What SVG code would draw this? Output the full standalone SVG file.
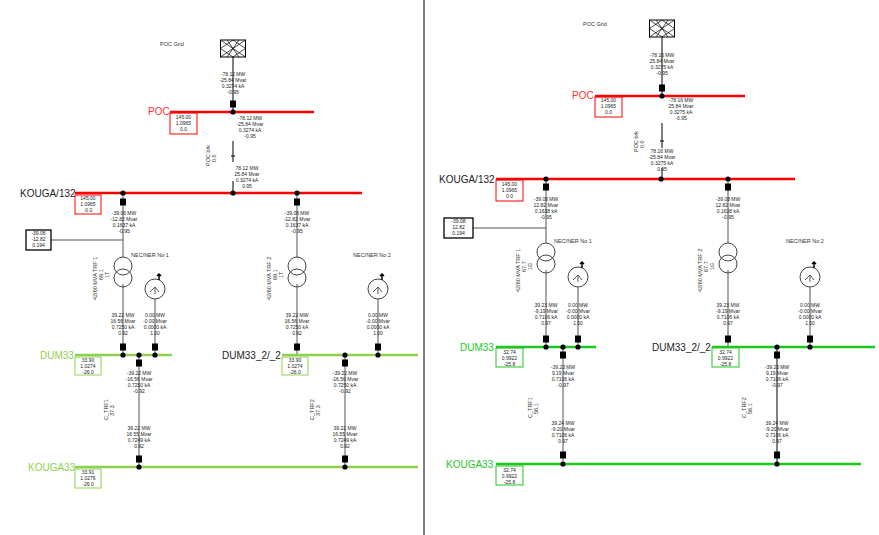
<svg xmlns="http://www.w3.org/2000/svg" width="879" height="535" viewBox="0 0 879 535">
<style>
text{font-family:"Liberation Sans",Arial,sans-serif}
.v{font-size:5px;fill:#222;text-anchor:middle}
.lb{font-size:5.5px;fill:#333}
.bn{font-size:10px}
.w{stroke:#555;stroke-width:1;fill:none}
.k{stroke:#000;stroke-width:1;fill:none}
.red{stroke:#ff0000;stroke-width:2.5}
.gl{stroke:#8fd14f;stroke-width:2.5}
.gr{stroke:#1ec81e;stroke-width:2.5}
</style>
<defs>
<g id="brk"><rect x="-3" y="-3.5" width="6" height="7" fill="#000"/></g>
<g id="dot"><circle r="2.6" fill="#000"/></g>
<g id="trf"><circle cy="-6" r="9" fill="#fff" stroke="#444"/><circle cy="6" r="9" fill="none" stroke="#444"/></g>
<g id="nec"><circle r="10" fill="#fff" stroke="#444"/><path d="M-5,3 L0,-2 L4,3 M0,-2 L0,5" class="w"/><path d="M4,-9 L4,-15 M2,-13 L4,-15 L6,-13" stroke="#000" stroke-width="1.5" fill="none"/></g>
<g id="grid"><rect x="-12.5" y="0" width="25" height="17" fill="#fff" stroke="#000"/><path d="M-12.5,0 L12.5,17 M12.5,0 L-12.5,17 M-12.5,8.5 L0,0 L12.5,8.5 L0,17 Z M-6,0 L6,17 M6,0 L-6,17" stroke="#000" stroke-width="0.7" fill="none"/></g>
</defs>
<line x1="424" y1="0" x2="424" y2="535" stroke="#000" stroke-width="1"/>

<g id="connectors">
<line x1="233" y1="57" x2="233" y2="112" class="k"/>
<line x1="233" y1="141" x2="233" y2="162" class="k"/>
<line x1="231" y1="156" x2="235" y2="156" class="k"/>
<line x1="233" y1="181" x2="233" y2="193" class="k"/>
<line x1="123" y1="193" x2="123" y2="258" class="w"/>
<line x1="51" y1="240" x2="123" y2="240" class="w"/>
<line x1="123" y1="284" x2="123" y2="355" class="w"/>
<line x1="155" y1="299" x2="155" y2="355" class="w"/>
<line x1="297" y1="193" x2="297" y2="258" class="w"/>
<line x1="297" y1="284" x2="297" y2="355" class="w"/>
<line x1="378" y1="299" x2="378" y2="355" class="w"/>
<line x1="139" y1="355" x2="139" y2="467" class="w"/>
<line x1="345" y1="355" x2="345" y2="467" class="w"/>

<line x1="662" y1="37" x2="662" y2="96" class="k"/>
<line x1="662" y1="123" x2="662" y2="148" class="k"/>
<line x1="660" y1="141" x2="664" y2="141" class="k"/>
<line x1="662" y1="168" x2="662" y2="179" class="k"/>
<line x1="546" y1="179" x2="546" y2="244" class="w"/>
<line x1="473" y1="228" x2="546" y2="228" class="w"/>
<line x1="546" y1="270" x2="546" y2="347" class="w"/>
<line x1="578" y1="287" x2="578" y2="347" class="w"/>
<line x1="728" y1="179" x2="728" y2="244" class="w"/>
<line x1="728" y1="270" x2="728" y2="347" class="w"/>
<line x1="810" y1="287" x2="810" y2="347" class="w"/>
<line x1="563" y1="347" x2="563" y2="464" class="w"/>
<line x1="777" y1="347" x2="777" y2="464" class="k"/>
</g>

<!-- LEFT PANEL -->
<g id="L-grid">
<text class="lb" x="160" y="46">POC Grid</text>
<use href="#grid" x="233" y="40"/>
<text class="v" x="233" y="76"><tspan x="233">-78.12 MW</tspan><tspan x="233" dy="6">-25.84 Mvar</tspan><tspan x="233" dy="6">0.3274 kA</tspan><tspan x="233" dy="6">-0.95</tspan></text>
<use href="#brk" x="233" y="104"/>
</g>
<g id="L-POC">
<line x1="170" y1="112" x2="314" y2="112" class="red"/>
<text class="bn" x="148" y="115" fill="#ff3030">POC</text>
<rect x="170" y="113" width="27" height="21" fill="none" stroke="#ff0000"/>
<text class="v" x="183.5" y="119"><tspan x="183.5">145.00</tspan><tspan x="183.5" dy="6">1.0965</tspan><tspan x="183.5" dy="6">0.0</tspan></text>
<use href="#dot" x="233" y="112"/>
<text class="v" x="250" y="120"><tspan x="250">-78.12 MW</tspan><tspan x="250" dy="6">-25.84 Mvar</tspan><tspan x="250" dy="6">0.3274 kA</tspan><tspan x="250" dy="6">-0.95</tspan></text>
</g>
<g id="L-brk">
<text class="lb" transform="translate(210,166) rotate(-90)"><tspan x="0">POC brk</tspan><tspan x="4" dy="6">0.0</tspan></text>
<text class="v" x="247" y="170"><tspan x="247">78.12 MW</tspan><tspan x="247" dy="6">25.84 Mvar</tspan><tspan x="247" dy="6">0.3274 kA</tspan><tspan x="247" dy="6">0.95</tspan></text>
</g>
<g id="L-KOUGA132">
<line x1="75" y1="193" x2="362" y2="193" class="red"/>
<text class="bn" x="20" y="197" fill="#222">KOUGA/132</text>
<rect x="75" y="195" width="26" height="19" fill="none" stroke="#ff0000"/>
<text class="v" x="88" y="200"><tspan x="88">145.00</tspan><tspan x="88" dy="6">1.0965</tspan><tspan x="88" dy="6">-0.0</tspan></text>
<use href="#dot" x="123" y="193"/><use href="#dot" x="233" y="193"/><use href="#dot" x="297" y="193"/>
<use href="#brk" x="123" y="202"/><use href="#brk" x="297" y="202"/>
<text class="v" x="124" y="215"><tspan x="124">-39.06 MW</tspan><tspan x="124" dy="6">-12.82 Mvar</tspan><tspan x="124" dy="6">0.1637 kA</tspan><tspan x="124" dy="6">-0.95</tspan></text>
<text class="v" x="297" y="215"><tspan x="297">-39.06 MW</tspan><tspan x="297" dy="6">-12.82 Mvar</tspan><tspan x="297" dy="6">0.1637 kA</tspan><tspan x="297" dy="6">-0.95</tspan></text>
<rect x="26" y="230" width="25" height="20" fill="none" stroke="#000" stroke-width="1.3"/>
<text class="v" x="38.5" y="235"><tspan x="38.5">-39.06</tspan><tspan x="38.5" dy="6">-12.82</tspan><tspan x="38.5" dy="6">0.194</tspan></text>
</g>
<g id="L-TRF1">
<use href="#trf" x="123" y="272"/>
<text class="lb" transform="translate(97,300) rotate(-90)"><tspan x="0">42/60 MVA TRF 1</tspan><tspan x="20" dy="6">69.1</tspan><tspan x="22" dy="6">1T</tspan></text>
<text class="v" x="123" y="317"><tspan x="123">39.22 MW</tspan><tspan x="123" dy="6">16.56 Mvar</tspan><tspan x="123" dy="6">0.7250 kA</tspan><tspan x="123" dy="6">0.92</tspan></text>
</g>
<g id="L-NEC1">
<text class="lb" x="131" y="257">NEC/NER No 1</text>
<use href="#nec" x="155" y="289"/>
<text class="v" x="155" y="317"><tspan x="155">0.00 MW</tspan><tspan x="155" dy="6">-0.00 Mvar</tspan><tspan x="155" dy="6">0.0000 kA</tspan><tspan x="155" dy="6">1.00</tspan></text>
</g>
<g id="L-TRF2">
<use href="#trf" x="297" y="272"/>
<text class="lb" transform="translate(271,300) rotate(-90)"><tspan x="0">42/60 MVA TRF 2</tspan><tspan x="20" dy="6">69.1</tspan><tspan x="22" dy="6">1T</tspan></text>
<text class="v" x="297" y="317"><tspan x="297">39.22 MW</tspan><tspan x="297" dy="6">16.56 Mvar</tspan><tspan x="297" dy="6">0.7250 kA</tspan><tspan x="297" dy="6">0.92</tspan></text>
</g>
<g id="L-NEC2">
<text class="lb" x="353" y="257">NEC/NER No 2</text>
<use href="#nec" x="378" y="289"/>
<text class="v" x="378" y="317"><tspan x="378">0.00 MW</tspan><tspan x="378" dy="6">-0.00 Mvar</tspan><tspan x="378" dy="6">0.0000 kA</tspan><tspan x="378" dy="6">1.00</tspan></text>
</g>
<g id="L-DUM33">
<line x1="75" y1="355" x2="172" y2="355" class="gl"/>
<text class="bn" x="40" y="359" fill="#8fd14f">DUM33</text>
<rect x="75" y="357" width="26" height="18" fill="none" stroke="#8fd14f"/>
<text class="v" x="88" y="362"><tspan x="88">33.90</tspan><tspan x="88" dy="6">1.0274</tspan><tspan x="88" dy="6">-26.0</tspan></text>
<use href="#brk" x="123" y="347"/><use href="#brk" x="155" y="347"/>
<use href="#dot" x="123" y="355"/><use href="#dot" x="139" y="355"/><use href="#dot" x="155" y="355"/>
<use href="#brk" x="139" y="363"/>
</g>
<g id="L-DUM33_2">
<line x1="282" y1="355" x2="418" y2="355" class="gl"/>
<text class="bn" x="222" y="359" fill="#222">DUM33_2/_2</text>
<rect x="282" y="357" width="26" height="18" fill="#fff" stroke="#8fd14f"/>
<text class="v" x="295" y="362"><tspan x="295">33.90</tspan><tspan x="295" dy="6">1.0274</tspan><tspan x="295" dy="6">-26.0</tspan></text>
<use href="#brk" x="297" y="347"/><use href="#brk" x="378" y="347"/>
<use href="#dot" x="345" y="355"/><use href="#dot" x="378" y="355"/>
<use href="#brk" x="345" y="363"/>
</g>
<g id="L-CTRF1">
<text class="v" x="139" y="375"><tspan x="139">-39.22 MW</tspan><tspan x="139" dy="6">-16.56 Mvar</tspan><tspan x="139" dy="6">0.7250 kA</tspan><tspan x="139" dy="6">-0.92</tspan></text>
<text class="lb" transform="translate(108,420) rotate(-90)"><tspan x="0">C_TRF1</tspan><tspan x="4" dy="6">37.3</tspan></text>
<text class="v" x="139" y="430"><tspan x="139">39.22 MW</tspan><tspan x="139" dy="6">16.55 Mvar</tspan><tspan x="139" dy="6">0.7249 kA</tspan><tspan x="139" dy="6">0.92</tspan></text>
<use href="#brk" x="139" y="459"/>
</g>
<g id="L-CTRF2">
<text class="v" x="345" y="375"><tspan x="345">-39.22 MW</tspan><tspan x="345" dy="6">-16.56 Mvar</tspan><tspan x="345" dy="6">0.7250 kA</tspan><tspan x="345" dy="6">-0.92</tspan></text>
<text class="lb" transform="translate(314,420) rotate(-90)"><tspan x="0">C_TRF2</tspan><tspan x="4" dy="6">37.3</tspan></text>
<text class="v" x="345" y="430"><tspan x="345">39.22 MW</tspan><tspan x="345" dy="6">16.55 Mvar</tspan><tspan x="345" dy="6">0.7249 kA</tspan><tspan x="345" dy="6">0.92</tspan></text>
<use href="#brk" x="345" y="459"/>
</g>
<g id="L-KOUGA33">
<line x1="75" y1="467" x2="418" y2="467" class="gl"/>
<text class="bn" x="28" y="471" fill="#8fd14f">KOUGA33</text>
<rect x="75" y="469" width="26" height="19" fill="none" stroke="#8fd14f"/>
<text class="v" x="88" y="474"><tspan x="88">33.91</tspan><tspan x="88" dy="6">1.0276</tspan><tspan x="88" dy="6">-26.0</tspan></text>
<use href="#dot" x="139" y="467"/><use href="#dot" x="345" y="467"/>
</g>

<!-- RIGHT PANEL -->
<g id="R-grid">
<text class="lb" x="583" y="26">POC Grid</text>
<use href="#grid" x="662" y="20"/>
<text class="v" x="662" y="57"><tspan x="662">-78.16 MW</tspan><tspan x="662" dy="6">25.84 Mvar</tspan><tspan x="662" dy="6">0.3275 kA</tspan><tspan x="662" dy="6">-0.95</tspan></text>
<use href="#brk" x="662" y="88"/>
</g>
<g id="R-POC">
<line x1="595" y1="96" x2="745" y2="96" class="red"/>
<text class="bn" x="572" y="99" fill="#ff3030">POC</text>
<rect x="595" y="97" width="27" height="20" fill="none" stroke="#ff0000"/>
<text class="v" x="608.5" y="102"><tspan x="608.5">145.00</tspan><tspan x="608.5" dy="6">1.0965</tspan><tspan x="608.5" dy="6">0.0</tspan></text>
<use href="#dot" x="662" y="96"/>
<text class="v" x="681" y="102"><tspan x="681">-78.16 MW</tspan><tspan x="681" dy="6">25.84 Mvar</tspan><tspan x="681" dy="6">0.3275 kA</tspan><tspan x="681" dy="6">-0.95</tspan></text>
</g>
<g id="R-brk">
<text class="lb" transform="translate(638,152) rotate(-90)"><tspan x="0">POC brk</tspan><tspan x="4" dy="6">0.0</tspan></text>
<text class="v" x="662" y="153"><tspan x="662">78.16 MW</tspan><tspan x="662" dy="6">-25.84 Mvar</tspan><tspan x="662" dy="6">0.3275 kA</tspan><tspan x="662" dy="6">0.95</tspan></text>
</g>
<g id="R-KOUGA132">
<line x1="496" y1="179" x2="795" y2="179" class="red"/>
<text class="bn" x="439" y="183" fill="#222">KOUGA/132</text>
<rect x="496" y="180" width="27" height="21" fill="none" stroke="#ff0000"/>
<text class="v" x="509.5" y="186"><tspan x="509.5">145.00</tspan><tspan x="509.5" dy="6">1.0965</tspan><tspan x="509.5" dy="6">0.0</tspan></text>
<use href="#dot" x="546" y="179"/><use href="#dot" x="661" y="179"/><use href="#dot" x="728" y="179"/>
<use href="#brk" x="546" y="187"/><use href="#brk" x="728" y="187"/>
<text class="v" x="546" y="201"><tspan x="546">-39.08 MW</tspan><tspan x="546" dy="6">12.82 Mvar</tspan><tspan x="546" dy="6">0.1638 kA</tspan><tspan x="546" dy="6">-0.95</tspan></text>
<text class="v" x="728" y="201"><tspan x="728">-39.08 MW</tspan><tspan x="728" dy="6">12.82 Mvar</tspan><tspan x="728" dy="6">0.1638 kA</tspan><tspan x="728" dy="6">-0.95</tspan></text>
<rect x="444" y="218" width="29" height="20" fill="none" stroke="#000" stroke-width="1.3"/>
<text class="v" x="458.5" y="223"><tspan x="458.5">-39.08</tspan><tspan x="458.5" dy="6">12.82</tspan><tspan x="458.5" dy="6">0.194</tspan></text>
</g>
<g id="R-TRF1">
<use href="#trf" x="546" y="258"/>
<text class="lb" transform="translate(520,292) rotate(-90)"><tspan x="0">42/60 MVA TRF 1</tspan><tspan x="20" dy="6">67.7</tspan><tspan x="22" dy="6">1G</tspan></text>
<text class="v" x="546" y="307"><tspan x="546">39.23 MW</tspan><tspan x="546" dy="6">-9.19 Mvar</tspan><tspan x="546" dy="6">0.7106 kA</tspan><tspan x="546" dy="6">0.97</tspan></text>
</g>
<g id="R-NEC1">
<text class="lb" x="554" y="243">NEC/NER No 1</text>
<use href="#nec" x="578" y="277"/>
<text class="v" x="578" y="307"><tspan x="578">0.00 MW</tspan><tspan x="578" dy="6">-0.00 Mvar</tspan><tspan x="578" dy="6">0.0000 kA</tspan><tspan x="578" dy="6">1.00</tspan></text>
</g>
<g id="R-TRF2">
<use href="#trf" x="728" y="258"/>
<text class="lb" transform="translate(702,292) rotate(-90)"><tspan x="0">42/60 MVA TRF 2</tspan><tspan x="20" dy="6">67.7</tspan><tspan x="22" dy="6">1G</tspan></text>
<text class="v" x="728" y="307"><tspan x="728">39.23 MW</tspan><tspan x="728" dy="6">-9.19 Mvar</tspan><tspan x="728" dy="6">0.7106 kA</tspan><tspan x="728" dy="6">0.97</tspan></text>
</g>
<g id="R-NEC2">
<text class="lb" x="786" y="243">NEC/NER No 2</text>
<use href="#nec" x="810" y="277"/>
<text class="v" x="810" y="307"><tspan x="810">0.00 MW</tspan><tspan x="810" dy="6">-0.00 Mvar</tspan><tspan x="810" dy="6">0.0000 kA</tspan><tspan x="810" dy="6">1.00</tspan></text>
</g>
<g id="R-DUM33">
<line x1="496" y1="347" x2="596" y2="347" class="gr"/>
<text class="bn" x="460" y="351" fill="#1ec81e">DUM33</text>
<rect x="496" y="348" width="27" height="19" fill="none" stroke="#1ec81e"/>
<text class="v" x="509.5" y="354"><tspan x="509.5">32.74</tspan><tspan x="509.5" dy="6">0.9922</tspan><tspan x="509.5" dy="6">-25.8</tspan></text>
<use href="#brk" x="546" y="339"/><use href="#brk" x="578" y="339"/>
<use href="#dot" x="546" y="347"/><use href="#dot" x="563" y="347"/><use href="#dot" x="578" y="347"/>
<use href="#brk" x="563" y="355"/>
</g>
<g id="R-DUM33_2">
<line x1="712" y1="347" x2="875" y2="347" class="gr"/>
<text class="bn" x="652" y="351" fill="#222">DUM33_2/_2</text>
<rect x="712" y="348" width="27" height="19" fill="#fff" stroke="#1ec81e"/>
<text class="v" x="725.5" y="354"><tspan x="725.5">32.74</tspan><tspan x="725.5" dy="6">0.9922</tspan><tspan x="725.5" dy="6">-25.8</tspan></text>
<use href="#brk" x="728" y="339"/><use href="#brk" x="810" y="339"/>
<use href="#dot" x="777" y="347"/><use href="#dot" x="810" y="347"/>
<use href="#brk" x="777" y="355"/>
</g>
<g id="R-CTRF1">
<text class="v" x="563" y="369"><tspan x="563">-39.23 MW</tspan><tspan x="563" dy="6">9.19 Mvar</tspan><tspan x="563" dy="6">0.7106 kA</tspan><tspan x="563" dy="6">-0.97</tspan></text>
<text class="lb" transform="translate(532,418) rotate(-90)"><tspan x="0">C_TRF1</tspan><tspan x="4" dy="6">56.1</tspan></text>
<text class="v" x="563" y="425"><tspan x="563">39.24 MW</tspan><tspan x="563" dy="6">-9.20 Mvar</tspan><tspan x="563" dy="6">0.7106 kA</tspan><tspan x="563" dy="6">0.97</tspan></text>
<use href="#brk" x="563" y="455"/>
</g>
<g id="R-CTRF2">
<text class="v" x="777" y="369"><tspan x="777">-39.23 MW</tspan><tspan x="777" dy="6">9.19 Mvar</tspan><tspan x="777" dy="6">0.7106 kA</tspan><tspan x="777" dy="6">-0.97</tspan></text>
<text class="lb" transform="translate(746,418) rotate(-90)"><tspan x="0">C_TRF2</tspan><tspan x="4" dy="6">56.1</tspan></text>
<text class="v" x="777" y="425"><tspan x="777">39.24 MW</tspan><tspan x="777" dy="6">-9.20 Mvar</tspan><tspan x="777" dy="6">0.7106 kA</tspan><tspan x="777" dy="6">0.97</tspan></text>
<use href="#brk" x="777" y="455"/>
</g>
<g id="R-KOUGA33">
<line x1="496" y1="464" x2="861" y2="464" class="gr"/>
<text class="bn" x="446" y="468" fill="#1ec81e">KOUGA33</text>
<rect x="496" y="466" width="27" height="19" fill="none" stroke="#1ec81e"/>
<text class="v" x="509.5" y="472"><tspan x="509.5">32.74</tspan><tspan x="509.5" dy="6">0.9922</tspan><tspan x="509.5" dy="6">-25.8</tspan></text>
<use href="#dot" x="563" y="464"/><use href="#dot" x="777" y="464"/>
</g>
</svg>
